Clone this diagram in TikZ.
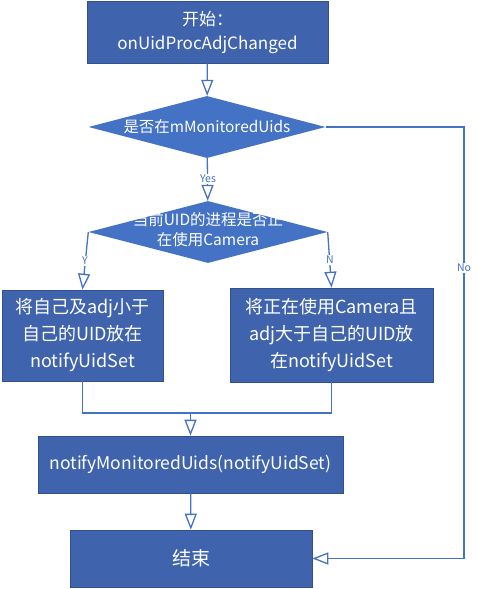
\documentclass[tikz,border=0pt]{standalone}
\usepackage{fontspec}
\setmainfont{Noto Sans CJK SC}
\usetikzlibrary{arrows.meta,shapes.geometric}
\definecolor{boxfill}{HTML}{3F64AD}
\definecolor{boxdraw}{HTML}{2F528F}
\definecolor{diafill}{HTML}{4472C4}
\definecolor{linec}{HTML}{4472C4}
\begin{document}
\begin{tikzpicture}[x=1pt,y=-1pt,
 box/.style={rectangle, fill=boxfill, draw=boxdraw, line width=0.6pt, text=white, inner sep=0pt, align=center},
 dia/.style={diamond, fill=diafill, inner sep=0pt, text=white},
 conn/.style={draw=linec, line width=1.3pt, -{Triangle[open,length=16pt,width=12pt]}},
 plain/.style={draw=linec, line width=1.3pt},
 lab/.style={fill=white, text=linec, font=\fontsize{10.5}{12}\selectfont, inner sep=1pt}]
\useasboundingbox (0,0) rectangle (478,589);
\node[box, minimum width=241pt, minimum height=62pt, font=\fontsize{17}{24}\selectfont] (start) at (207.5,32) {开始：\\onUidProcAdjChanged};
\node[dia, minimum width=237pt, minimum height=62pt, font=\fontsize{15.4}{20}\selectfont] (d1) at (207,127) {\makebox[0pt]{是否在mMonitoredUids}};
\node[dia, minimum width=239pt, minimum height=62pt, font=\fontsize{15.5}{20}\selectfont] (d2) at (208,232) {\makebox[0pt]{\raisebox{-6pt}{\smash{\begin{tabular}{@{}c@{}}当前UID的进程是否正\\在使用Camera\end{tabular}}}}};
\node[box, minimum width=161pt, minimum height=91pt, font=\fontsize{18}{27}\selectfont] (L) at (82.5,335.5) {将自己及adj小于\\自己的UID放在\\notifyUidSet};
\node[box, minimum width=203pt, minimum height=94pt, font=\fontsize{18}{27}\selectfont] (R) at (331.5,335) {将正在使用Camera且\\adj大于自己的UID放\\在notifyUidSet};
\node[box, minimum width=305pt, minimum height=57pt, font=\fontsize{17.5}{20}\selectfont] (N) at (190.5,464.5) {notifyMonitoredUids(notifyUidSet)};
\node[box, minimum width=242pt, minimum height=57pt, font=\fontsize{19}{20}\selectfont] (E) at (191,558.5) {结束};
\coordinate (m) at (190.5,413);
\coordinate (nc1) at (464,127);
\coordinate (nc2) at (464,558.5);
\draw[conn] (start) -- (d1);
\draw[conn] (d1) -- (d2);
\draw[conn] (d2.west) -- (L.north);
\draw[conn] (d2.east) -- (R.north);
\draw[plain] (L.south) |- (m);
\draw[plain] (R.south) |- (m);
\draw[conn] (m) -- (N.north);
\draw[conn] (N) -- (E);
\draw[conn] (d1.east) -- (nc1) -- (nc2) -- (E.east);
\node[lab] (lyes) at (208,179) {Yes};
\node[lab] (ly) at (85,261) {Y};
\node[lab] (ln) at (330,260) {N};
\node[lab] (lno) at (464,268) {No};
\end{tikzpicture}
\end{document}
